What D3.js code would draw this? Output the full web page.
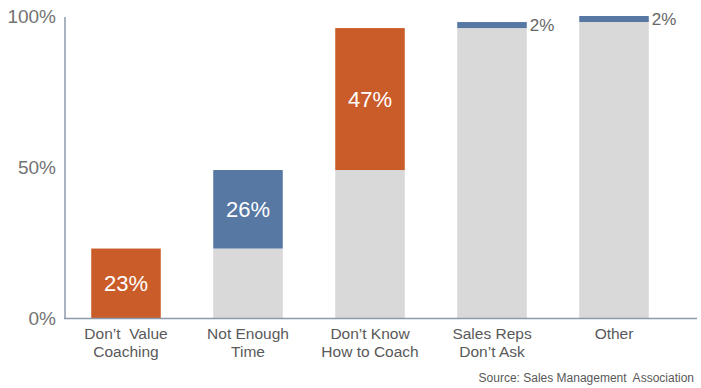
<!DOCTYPE html>
<html>
<head>
<meta charset="utf-8">
<script src="https://cdn.jsdelivr.net/npm/d3@7"></script>
<style>
  body { margin: 0; background: #fff; }
  text { font-family: "Liberation Sans", Arial, sans-serif; white-space: pre; }
</style>
</head>
<body>
<div id="chart"></div>
<script>
// Data
var categories = [["Don\u2019t  Value", "Coaching"], ["Not Enough", "Time"], ["Don\u2019t Know", "How to Coach"], ["Sales Reps", "Don\u2019t Ask"], ["Other"]];
var values = [23, 26, 47, 2, 2];
var tickValues = [0, 50, 100];
var barColors = ["#CA5C2A", "#5878A4", "#CA5C2A", "#5878A4", "#5878A4"];

var WIDTH = 701, HEIGHT = 388;

// cumulative base for each step
var bases = [];
var running = 0;
values.forEach(function (v) { bases.push(running); running += v; });

var svg = d3.select("#chart").append("svg")
  .attr("width", WIDTH)
  .attr("height", HEIGHT);

var xscale = d3.scaleBand()
  .domain(d3.range(values.length))
  .range([65, 675])
  .paddingInner(0.43)
  .paddingOuter(0.215);

var yscale = d3.scaleLinear()
  .domain([0, 100])
  .range([318, 16]);

// gray base bars
svg.selectAll("rect.base")
  .data(values)
  .enter()
  .append("rect")
  .attr("class", "base")
  .attr("x", function (d, i) { return xscale(i); })
  .attr("y", function (d, i) { return yscale(bases[i]); })
  .attr("width", xscale.bandwidth())
  .attr("height", function (d, i) { return yscale(0) - yscale(bases[i]); })
  .attr("fill", "#D9D9D9");

// coloured step bars
svg.selectAll("rect.step")
  .data(values)
  .enter()
  .append("rect")
  .attr("class", "step")
  .attr("x", function (d, i) { return xscale(i); })
  .attr("y", function (d, i) { return yscale(bases[i] + d); })
  .attr("width", xscale.bandwidth())
  .attr("height", function (d) { return yscale(0) - yscale(d); })
  .attr("fill", function (d, i) { return barColors[i]; });

// value labels: inside big bars, beside the thin ones
svg.selectAll("text.val")
  .data(values)
  .enter()
  .append("text")
  .attr("class", "val")
  .attr("x", function (d, i) {
    return d > 5 ? xscale(i) + xscale.bandwidth() / 2 : xscale(i) + xscale.bandwidth() + 3;
  })
  .attr("y", function (d, i) {
    return d > 5 ? yscale(bases[i] + d / 2) : yscale(bases[i] + d) + 3;
  })
  .attr("dy", "0.35em")
  .attr("text-anchor", function (d) { return d > 5 ? "middle" : "start"; })
  .attr("fill", function (d) { return d > 5 ? "#ffffff" : "#666666"; })
  .attr("font-size", function (d) { return d > 5 ? "22px" : "17px"; })
  .text(function (d) { return d + "%"; });

// y axis
var y_axis = d3.axisLeft(yscale)
  .tickValues(tickValues)
  .tickSize(0)
  .tickPadding(9)
  .tickFormat(function (d) { return d + "%"; });

var yAxisElements = svg.append("g")
  .attr("transform", "translate(65,0)")
  .call(y_axis);
yAxisElements.select(".domain").remove();
yAxisElements.selectAll("text")
  .attr("font-size", "19px")
  .attr("fill", "#737373")
  .attr("font-family", "Liberation Sans, Arial, sans-serif");

svg.append("line")
  .attr("x1", 65).attr("x2", 65)
  .attr("y1", 17).attr("y2", 318.5)
  .attr("stroke", "#8C9AAD").attr("stroke-width", 1.5);
svg.append("line")
  .attr("x1", 64).attr("x2", 697)
  .attr("y1", 318.5).attr("y2", 318.5)
  .attr("stroke", "#8C9AAD").attr("stroke-width", 1.5);

// category labels
var cats = svg.selectAll("text.cat")
  .data(categories)
  .enter()
  .append("text")
  .attr("class", "cat")
  .attr("text-anchor", "middle")
  .attr("font-size", "15.5px")
  .attr("fill", "#595959")
  .attr("transform", function (d, i) {
    return "translate(" + (xscale(i) + xscale.bandwidth() / 2) + ",339)";
  });
cats.selectAll("tspan")
  .data(function (d) { return d; })
  .enter()
  .append("tspan")
  .attr("x", 0)
  .attr("y", function (d, j) { return j * 18; })
  .text(function (d) { return d; });

// source
svg.append("text")
  .attr("x", 694)
  .attr("y", 382)
  .attr("text-anchor", "end")
  .attr("font-size", "12px")
  .attr("fill", "#595959")
  .text("Source: Sales Management  Association");
</script>
</body>
</html>
